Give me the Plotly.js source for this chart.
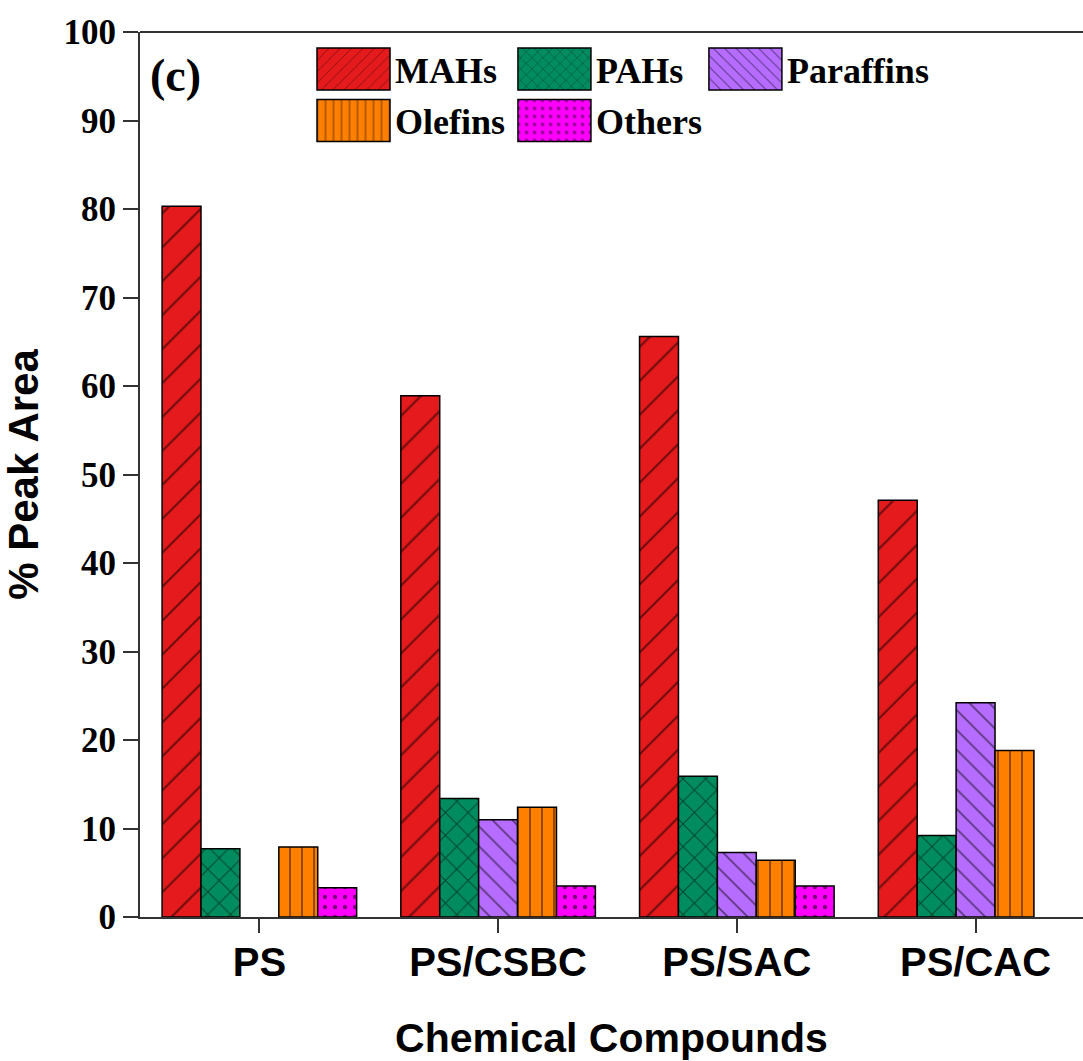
<!DOCTYPE html>
<html>
<head>
<meta charset="utf-8">
<script src="https://cdn.plot.ly/plotly-3.0.1.min.js"></script>
<style>html,body{margin:0;padding:0;background:#fff;}</style>
</head>
<body>
<div id="chart" style="width:1083px;height:1061px;"></div>
<script>
const categories = ['PS', 'PS/CSBC', 'PS/SAC', 'PS/CAC'];
const seriesNames = ['MAHs', 'PAHs', 'Paraffins', 'Olefins', 'Others'];
const MAHs = [80.3, 58.9, 65.6, 47.1];
const PAHs = [7.7, 13.4, 15.9, 9.2];
const Paraffins = [null, 11.0, 7.3, 24.2];
const Olefins = [7.9, 12.4, 6.4, 18.8];
const Others = [3.3, 3.5, 3.5, null];
const yTicks = [0, 10, 20, 30, 40, 50, 60, 70, 80, 90, 100];

const seriesValues = [MAHs, PAHs, Paraffins, Olefins, Others];
const colors = ['#E41A1C', '#008C5E', '#B66DFF', '#FF8000', '#FF00FF'];
const patterns = [
  {shape: '/', size: 24, solidity: 0.09},
  {shape: 'x', size: 16, solidity: 0.12},
  {shape: '\\', size: 14, solidity: 0.12},
  {shape: '|', size: 12, solidity: 0.14},
  {shape: '.', size: 10, solidity: 0.15}
];
// one single-entry legend per series, so the entries can sit in the reference's 3 + 2 grid
const legendIds = ['legend', 'legend2', 'legend3', 'legend4', 'legend5'];
const legendSpots = [[0.1824, 0.958], [0.3955, 0.958], [0.598, 0.958], [0.1824, 0.9], [0.3955, 0.9]];

const traces = seriesNames.map((name, i) => ({
  type: 'bar',
  name: name,
  x: categories,
  y: seriesValues[i],
  legend: legendIds[i],
  marker: {
    color: colors[i],
    line: {color: '#000', width: 1.5},
    pattern: Object.assign({fgcolor: '#000', bgcolor: colors[i], fillmode: 'overlay'}, patterns[i])
  }
}));

const serif = 'Liberation Serif, Times New Roman, serif';
const sans = 'Liberation Sans, Arial, sans-serif';

const layout = {
  width: 1083,
  height: 1061,
  margin: {l: 140, r: 0, t: 32, b: 144, autoexpand: false},
  paper_bgcolor: '#fff',
  plot_bgcolor: '#fff',
  barmode: 'group',
  bargap: 0.185,
  bargroupgap: 0,
  showlegend: true,
  xaxis: {
    type: 'category',
    range: [-0.5, 3.45],
    showline: true,
    linecolor: '#333',
    linewidth: 2,
    ticks: 'outside',
    ticklen: 14,
    tickwidth: 2,
    tickcolor: '#333',
    tickson: 'labels',
    ticklabelstandoff: -5,
    tickfont: {family: sans, size: 40, color: '#000', weight: 'bold'},
    showgrid: false,
    zeroline: false,
    title: {text: 'Chemical Compounds', font: {family: sans, size: 41, color: '#000', weight: 'bold'}, standoff: 40}
  },
  yaxis: {
    range: [0, 100],
    tickvals: yTicks,
    ticktext: yTicks.map(String),
    showline: true,
    linecolor: '#333',
    linewidth: 2,
    ticks: 'outside',
    ticklen: 15,
    tickwidth: 2,
    tickcolor: '#333',
    tickfont: {family: serif, size: 35, color: '#000', weight: 'bold'},
    showgrid: false,
    zeroline: false,
    title: {text: '% Peak Area', font: {family: sans, size: 42, color: '#000', weight: 'bold'}, standoff: 14}
  },
  shapes: [
    {type: 'line', xref: 'paper', yref: 'paper', x0: 0, x1: 1, y0: 1, y1: 1, line: {color: '#333', width: 2}}
  ],
  annotations: [
    {text: '(c)', xref: 'paper', yref: 'paper', x: 0.008, y: 0.951, xanchor: 'left', yanchor: 'middle', showarrow: false,
     font: {family: serif, size: 46, color: '#000', weight: 'bold'}}
  ]
};

legendIds.forEach((id, i) => {
  layout[id] = {
    x: legendSpots[i][0],
    y: legendSpots[i][1],
    xanchor: 'left',
    yanchor: 'middle',
    bgcolor: 'rgba(0,0,0,0)',
    borderwidth: 0,
    itemwidth: 73,
    font: {family: serif, size: 36, color: '#000', weight: 'bold'}
  };
});

Plotly.newPlot('chart', traces, layout, {displayModeBar: false, staticPlot: true}).then(function (gd) {
  // enlarge legend swatches to match the reference's big pattern boxes
  gd.querySelectorAll('.legendpoints path').forEach(function (p) {
    p.setAttribute('d', 'M36.5,21H-36.5V-21H36.5Z');
  });
});
</script>
</body>
</html>
